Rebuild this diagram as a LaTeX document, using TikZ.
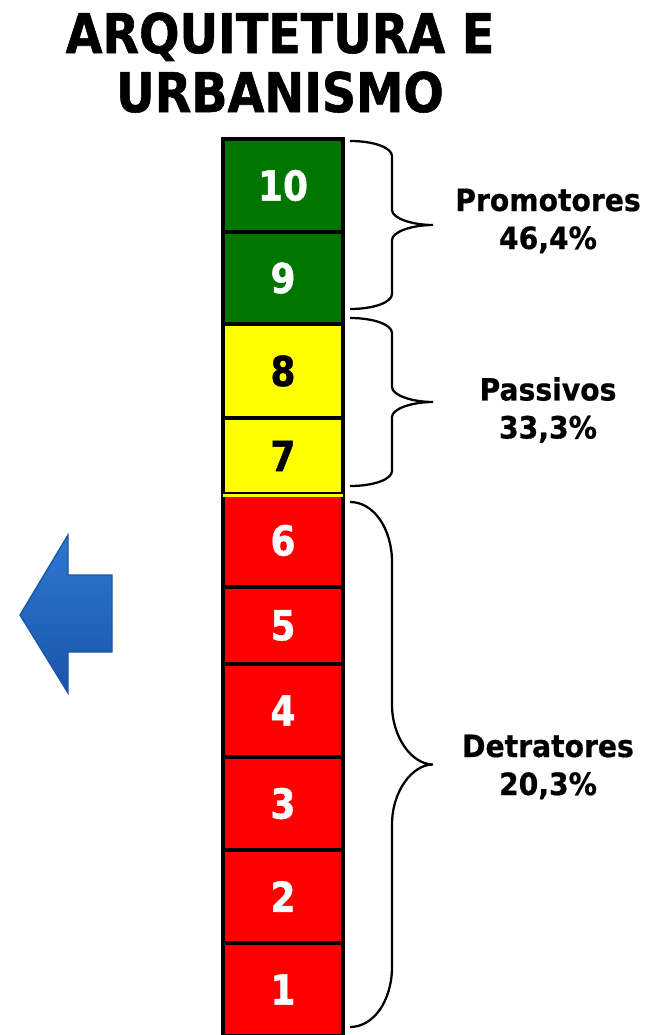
\documentclass[tikz,border=0pt]{standalone}
\usepackage{fontspec}
\usepackage{tikz}
\usetikzlibrary{calc}
\newfontfamily\titlefont{DejaVu Sans}[FakeStretch=0.87,FakeBold=1]
\newfontfamily\labelfont{DejaVu Sans}[FakeStretch=0.92,FakeBold=0.6]
\definecolor{verde}{RGB}{0,118,0}
\definecolor{amarelo}{RGB}{255,255,0}
\definecolor{vermelho}{RGB}{255,0,0}
\definecolor{setaclara}{RGB}{45,120,210}
\definecolor{setaescura}{RGB}{25,85,170}

\begin{document}
\begin{tikzpicture}[x=0.75pt,y=-0.75pt]
      \useasboundingbox (0,0) rectangle (662,1035);
      \node (t1) [anchor=base] at (280,53) {\titlefont\fontsize{41}{44}\selectfont\bfseries ARQUITETURA E};
      \node (t2) [anchor=base] at (280,112) {\titlefont\fontsize{41}{44}\selectfont\bfseries URBANISMO};
      \foreach \n/\ya/\yb/\c/\f in {10/138/231/verde/white,9/231/323/verde/white,8/323/417/amarelo/black,7/417/493/amarelo/black,6/493/586/vermelho/white,5/586/663/vermelho/white,4/663/756/vermelho/white,3/756/849/vermelho/white,2/849/942/vermelho/white,1/942/1035/vermelho/white}{
        \node (box\n) [rectangle,draw=black,line width=2.4pt,fill=\c,text=\f,inner sep=0pt,minimum width=90pt,minimum height={(\yb-\ya)*0.75pt}] at (283,{(\ya+\yb)/2+1}) {\titlefont\fontsize{31}{31}\selectfont\bfseries\n};
      }
      \fill [amarelo] ($ (box6.north west)+(1.2pt,-1.2pt) $) rectangle ($ (box6.north east)+(-1.2pt,-3.1pt) $);
      \foreach \i/\ya/\yb/\h in {p/141/309/15,q/318/486/15,d/502/1027/60}{
        \pgfmathsetmacro{\m}{(\ya+\yb)/2}
        \draw [line width=1.7pt] (350,\ya) .. controls (374,\ya) and (392,{\ya+0.45*\h}) .. (392,{\ya+\h})
          -- (392,{\m-\h}) .. controls (392,{\m-0.45*\h}) and (412,\m) .. (433,\m)
          .. controls (412,\m) and (392,{\m+0.45*\h}) .. (392,{\m+\h})
          -- (392,{\yb-\h}) .. controls (392,{\yb-0.45*\h}) and (374,\yb) .. (350,\yb);
      }
      \foreach \i/\y/\nome/\pct in {p/221/Promotores/{46,4\%},q/410/Passivos/{33,3\%},d/767/Detratores/{20,3\%}}{
        \node (lbl\i) [align=center,font=\labelfont\fontsize{23}{28.5}\selectfont\bfseries] at (548,\y) {\nome\\\pct};
      }
      \shade [top color=setaclara,bottom color=setaescura,draw=setaescura,line width=1pt]
        (20,615) -- (68,535) -- (68,575) -- (112,575) -- (112,652) -- (68,652) -- (68,693) -- cycle;
    \end{tikzpicture}
\end{document}
